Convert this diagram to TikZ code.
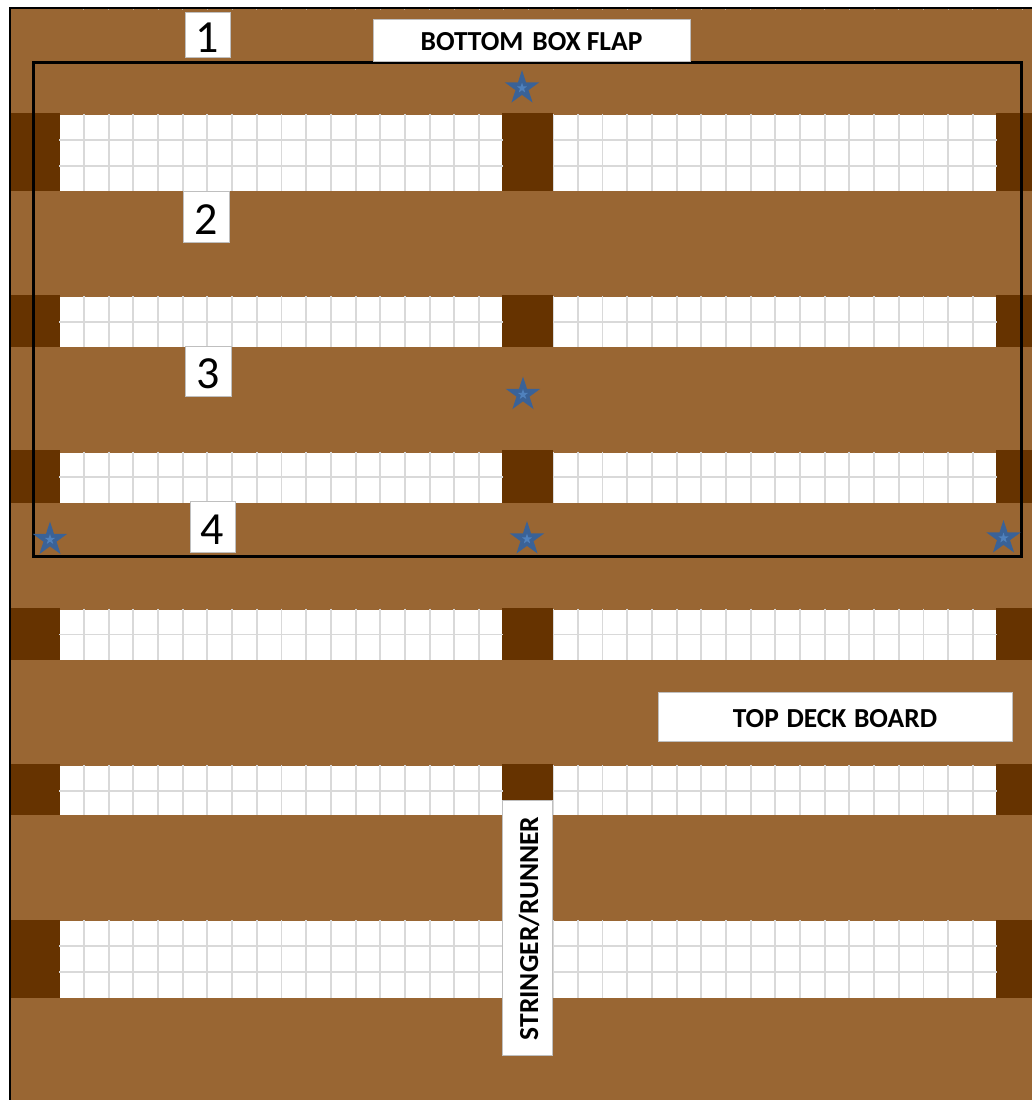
\documentclass[tikz,border=0pt]{standalone}
\usepackage{fontspec}
\setmainfont{Carlito}
\usetikzlibrary{shapes.geometric}
\definecolor{plank}{HTML}{996633}
\definecolor{runner}{HTML}{663300}
\definecolor{gridc}{HTML}{D9D9D9}
\definecolor{starc}{HTML}{3A6297}
\definecolor{starin}{HTML}{4F81BD}
\definecolor{labline}{HTML}{BFBFBF}
\newcommand{\wsp}{\hspace{0.1em}}
\tikzset{
  labelbox/.style={draw=labline,line width=1pt,fill=white,inner sep=0pt,text=black,align=center},
  numbox/.style={labelbox,font=\fontsize{46}{46}\selectfont,text height=35pt,text depth=0pt},
  wordbox/.style={labelbox,font=\fontsize{27.5}{27.5}\selectfont\bfseries,text height=21pt,text depth=0pt},
  bigstar/.style={star,star points=5,star point ratio=2.618,minimum size=36pt,inner sep=0pt,fill=starc},
  smallstar/.style={star,star points=5,star point ratio=2.618,minimum size=11pt,inner sep=0pt,fill=starin},
  gridline/.style={draw=gridc,line width=1.9pt},
}
\begin{document}
\begin{tikzpicture}[x=1pt,y=-1pt]
\useasboundingbox (0,0) rectangle (1032,1100);
\clip (0,0) rectangle (1032,1100);
% deck
\fill[plank] (10,8) rectangle (1032,1100);
% openings: white top / white bottom
\foreach \a/\b in {115/191,297/347,452.7/502.7,609.7/660,766/815,921/997.7}{
  \fill[white] (60,\a) rectangle (997,\b);
  \foreach \k in {1,...,37}{
    \draw[gridline] ({59.3+24.69*\k},\a-1.2) -- ({59.3+24.69*\k},\b);
  }
}
% top edge ticks
\foreach \k in {1,...,39}{
  \draw[gridc!60!plank,line width=1pt] ({59.3+24.69*\k},9) -- ({59.3+24.69*\k},10);
}
% stringers
\foreach \a/\b in {113/191,295/347,450/502.7,607.7/660,764/815,919.5/997.7}{
  \fill[runner] (11,\a) rectangle (60,\b);
  \fill[runner] (502,\a) rectangle (553,\b);
  \fill[runner] (996,\a) rectangle (1032,\b);
}
% horizontal grid
\foreach \y in {139.7,165.7,322,476.7,634.5,790.7,945.7,971.7}{
  \draw[gridline] (59.3,\y) -- (503,\y);
  \draw[gridline] (553,\y) -- (997,\y);
}
% outer frame
\draw[black,line width=2pt] (10,1100) -- (10,8) -- (1032,8);
% box footprint
\draw[black,line width=3pt,miter limit=10] (33.5,62) rectangle (1021.5,556);
% labels
\node[numbox,minimum width=45pt,minimum height=45pt] (n1) at (207.5,34.5) {1};
\node[numbox,minimum width=46pt,minimum height=51pt] (n2) at (206,216.5) {2};
\node[numbox,minimum width=46pt,minimum height=50pt] (n3) at (208,371) {3};
\node[numbox,minimum width=45pt,minimum height=51pt] (n4) at (212.5,526.5) {4};
\node[wordbox,minimum width=317pt,minimum height=42pt] (flap) at (531.5,40) {BOTTOM\wsp{} BOX FLAP};
\node[wordbox,minimum width=354pt,minimum height=49pt] (deck) at (835,716.5) {TOP\hspace{0.05em} DECK\hspace{0.05em} BOARD};
\node[wordbox,rotate=90,minimum width=255pt,minimum height=50.5pt] (stringer) at (527.7,927.5) {STRINGER/RUNNER\hspace*{2pt}};
% stars
\foreach \n/\x/\y in {sa/522/88,sb/523/394.5,sc/50/539.5,sd/527/539,se/1003.5/538}{
  \node[bigstar] (\n) at (\x,\y) {};
  \node[smallstar] (\n i) at (\x,\y) {};
}
\end{tikzpicture}
\end{document}
